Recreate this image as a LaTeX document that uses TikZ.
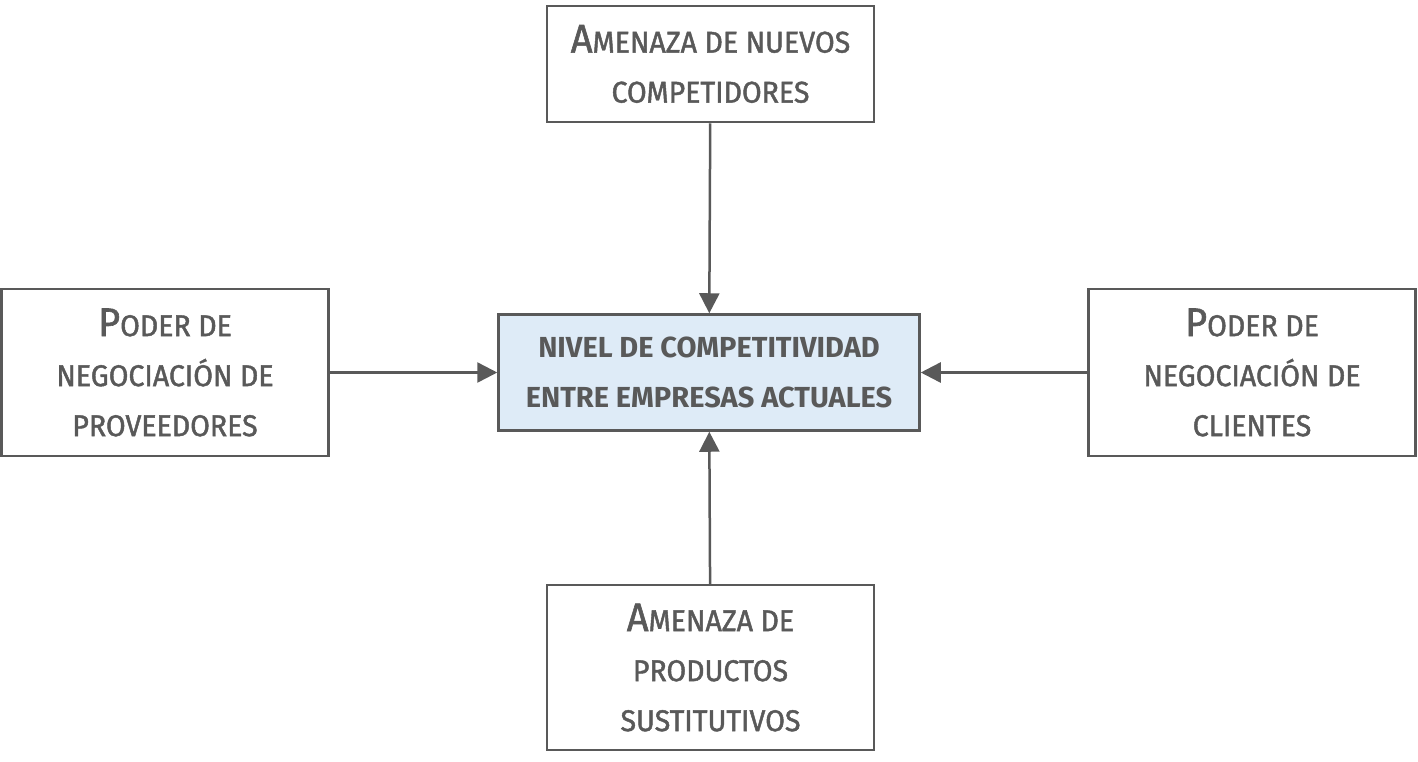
\documentclass[tikz,border=0pt]{standalone}
\usepackage{fontspec}
\setmainfont{Fira Sans}[FakeStretch=0.95,UprightFeatures={FakeBold=1.5}]
\newfontfamily\rivalfont{Fira Sans}[FakeStretch=1.0]
\usepackage{xcolor}
\usetikzlibrary{arrows.meta}
\definecolor{linegray}{HTML}{595959}
\definecolor{boxblue}{HTML}{DEEBF7}
\newcommand{\bigini}[1]{{\fontsize{40}{50}\selectfont #1}}

\begin{document}
\begin{tikzpicture}[x=1pt,y=-1pt,
  force/.style={draw=linegray,line width=2.5pt,text=linegray,minimum width=327pt,
    align=center,inner sep=0pt,font=\fontsize{30}{50}\selectfont},
  rival/.style={force,fill=boxblue,minimum width=421pt,minimum height=116pt,
    font=\rivalfont\bfseries\fontsize{29}{50}\selectfont},
  push/.style={draw=linegray,line width=2.5pt,-{Triangle[length=20pt,width=20pt]}}]
\useasboundingbox (0,0) rectangle (1418,761);
% central box
\node[rival] (nivel) at (709,372.5) {NIVEL DE COMPETITIVIDAD\\ENTRE EMPRESAS ACTUALES};
% the four forces
\node[force,minimum height=116pt] (nuevos) at (710.5,64) {\bigini{A}MENAZA DE NUEVOS\\COMPETIDORES};
\node[force,minimum height=167pt] (prov) at (165,372.5) {\bigini{P}ODER DE\\NEGOCIACIÓN DE\\PROVEEDORES};
\node[force,minimum height=167pt] (clientes) at (1252,372.5) {\bigini{P}ODER DE\\NEGOCIACIÓN DE\\CLIENTES};
\node[force,minimum height=165pt] (sustit) at (710.5,667.5) {\bigini{A}MENAZA DE\\PRODUCTOS\\SUSTITUTIVOS};
% arrows
\draw[push] (nuevos) -- (nivel);
\draw[push] (prov) -- (nivel);
\draw[push] (clientes) -- (nivel);
\draw[push] (sustit) -- (nivel);
\end{tikzpicture}
\end{document}
